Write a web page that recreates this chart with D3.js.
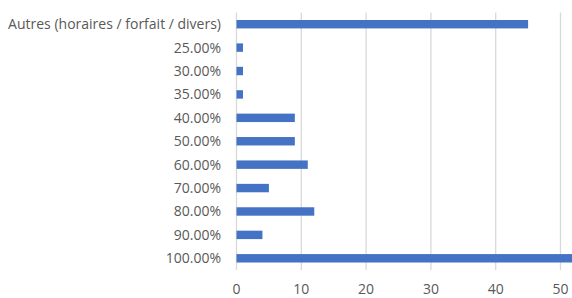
<!DOCTYPE html>
<html lang="fr">
<head>
<meta charset="UTF-8">
<script src="https://cdn.jsdelivr.net/npm/d3@7"></script>
<style>
  body { margin: 0; background: #fff; }
  text { font-family: "Open Sans", sans-serif; fill: #595959; }
</style>
</head>
<body>
<svg width="572" height="298"></svg>
<script>
  const categories = ["Autres (horaires / forfait / divers)", "25.00%", "30.00%", "35.00%", "40.00%",
                      "50.00%", "60.00%", "70.00%", "80.00%", "90.00%", "100.00%"];
  const values = [45, 1, 1, 1, 9, 9, 11, 5, 12, 4, 56];
  const xTicks = [0, 10, 20, 30, 40, 50];

  const svg = d3.select('svg');
  const x = d3.scaleLinear().domain([0, 50]).range([236.5, 560.5]);
  const y = d3.scaleBand().domain(categories).range([12.5, 270]).paddingInner(0.64).paddingOuter(0.32);

  // grid lines
  svg.append('g').selectAll('line').data(xTicks).join('line')
    .attr('x1', d => x(d)).attr('x2', d => x(d))
    .attr('y1', 12.5).attr('y2', 270)
    .attr('stroke', '#d9d9d9').attr('stroke-width', 1.3);

  // bars
  svg.append('g').selectAll('rect').data(values).join('rect')
    .attr('x', x(0))
    .attr('y', (d, i) => y(categories[i]))
    .attr('width', d => x(d) - x(0))
    .attr('height', y.bandwidth())
    .attr('fill', '#4472c4');

  // category labels
  svg.append('g').selectAll('text').data(categories).join('text')
    .attr('x', 221)
    .attr('y', d => y(d) + y.bandwidth() / 2)
    .attr('dy', '0.35em')
    .attr('text-anchor', 'end')
    .attr('font-size', 14)
    .text(d => d);

  // x tick labels
  svg.append('g').selectAll('text').data(xTicks).join('text')
    .attr('x', d => x(d))
    .attr('y', 289.5)
    .attr('dy', '0.35em')
    .attr('text-anchor', 'middle')
    .attr('font-size', 14)
    .text(d => d);
</script>
</body>
</html>
